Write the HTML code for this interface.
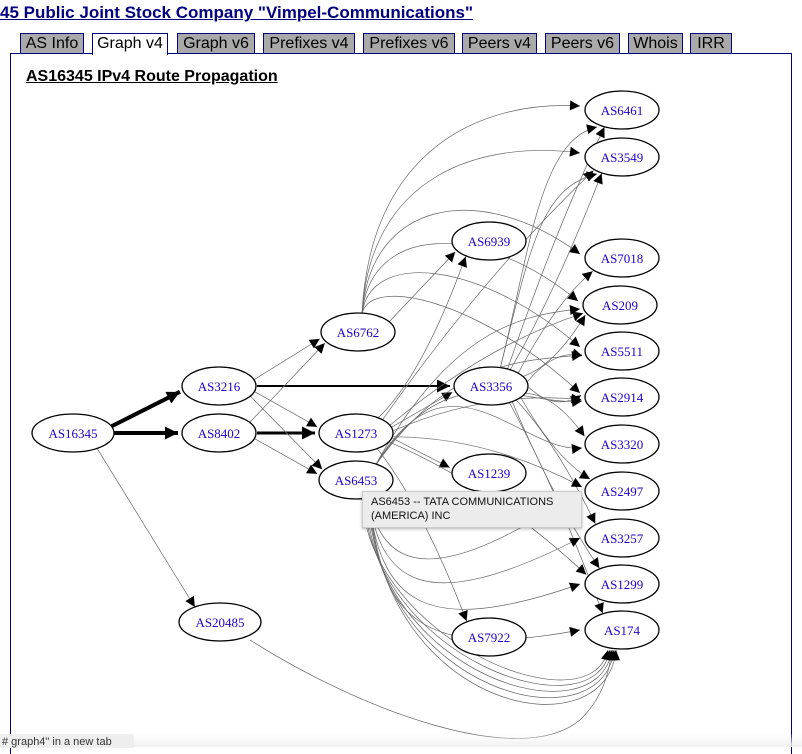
<!DOCTYPE html>
<html><head><meta charset="utf-8"><style>
body{margin:0;width:802px;height:747px;overflow:hidden;background:#fff;font-family:"Liberation Sans",Arial,sans-serif;position:relative}
.h1{position:absolute;left:0;top:3px;font-size:17px;font-weight:bold;color:#000080;text-decoration:underline;white-space:nowrap;transform:scaleX(1.0);transform-origin:left}
.tab{position:absolute;top:33px;height:19px;background:#a9a9a9;border:1px solid #000080;border-bottom:none;font-size:16px;line-height:20px;text-align:center;color:#000}
.tab.sel{background:#fff;height:21px;z-index:2}
.box{position:absolute;left:10px;top:53px;width:780px;height:700px;border:1px solid #000080;border-bottom:none}
.t2{position:absolute;left:26px;top:68px;font-size:16px;font-weight:bold;text-decoration:underline;white-space:nowrap;transform:scaleX(1.0);transform-origin:left}
svg{position:absolute;left:0;top:0}
.tip{position:absolute;left:362px;top:491px;width:210px;height:32px;background:#ececec;border:1px solid #ccc;font-size:11px;line-height:14px;padding:3px 0 0 8px;color:#111;box-shadow:0 1px 3px rgba(0,0,0,.3)}
.bot{position:absolute;left:0;top:733px;width:802px;height:14px;background:linear-gradient(#fff0,#f2f2f2)}
.st{position:absolute;left:0;top:734px;width:132px;height:14px;background:#eee;border-radius:0 4px 0 0;font-size:11px;color:#333;padding-left:2px;line-height:16px}
</style></head><body>
<div class="h1">45 Public Joint Stock Company "Vimpel-Communications"</div>
<div class="tab" style="left:20px;width:62px">AS Info</div>
<div class="tab sel" style="left:92px;width:74px">Graph v4</div>
<div class="tab" style="left:177px;width:76px">Graph v6</div>
<div class="tab" style="left:263px;width:90px">Prefixes v4</div>
<div class="tab" style="left:363px;width:90px">Prefixes v6</div>
<div class="tab" style="left:462px;width:73px">Peers v4</div>
<div class="tab" style="left:545px;width:73px">Peers v6</div>
<div class="tab" style="left:628px;width:53px">Whois</div>
<div class="tab" style="left:690px;width:40px">IRR</div>
<div class="box"></div>
<div class="t2">AS16345 IPv4 Route Propagation</div>
<svg id="g" width="802" height="747" xmlns="http://www.w3.org/2000/svg">
<defs><marker id="a" viewBox="0 0 10 10" refX="10" refY="5" markerWidth="14" markerHeight="10" markerUnits="userSpaceOnUse" orient="auto"><path d="M0,0L10,5L0,10z" fill="#000"/></marker>
<marker id="b" viewBox="0 0 10 10" refX="10" refY="5" markerWidth="18" markerHeight="13" markerUnits="userSpaceOnUse" orient="auto"><path d="M0,0L10,5L0,10z" fill="#000"/></marker></defs>
<g id="e" fill="none" stroke="#666" stroke-width="0.7"></g>
<g id="n" fill="#fff" stroke="#000" stroke-width="1.3" font-family="Liberation Serif,serif" font-size="13"></g>
</svg>
<div class="tip">AS6453 -- TATA COMMUNICATIONS<br>(AMERICA) INC</div>
<div class="bot"></div>
<div class="st"># graph4" in a new tab</div>
<script>
var N={AS6461:[622,110],AS3549:[622,157],AS6939:[489,241],AS7018:[622,258],AS209:[620,305],AS6762:[358,332],AS5511:[622,351],AS3216:[219,386],AS3356:[491,386],AS2914:[622,397],AS16345:[73,433],AS8402:[219,433],AS1273:[356,433],AS3320:[622,444],AS1239:[489,473],AS6453:[356,480],AS2497:[622,491],AS3257:[622,538],AS1299:[622,584],AS174:[622,630],AS20485:[220,622],AS7922:[489,637]};
var R=['AS6461','AS3549','AS7018','AS209','AS5511','AS2914','AS3320','AS2497','AS3257','AS1299','AS174'];
var e=document.getElementById('e'),n=document.getElementById('n'),S='http://www.w3.org/2000/svg';
function P(d,w,m){var p=document.createElementNS(S,'path');p.setAttribute('d',d);p.setAttribute('marker-end','url(#'+(m||'a')+')');if(w){p.setAttribute('stroke','#000');p.setAttribute('stroke-width',w);}e.appendChild(p);}
function edge(a,b,w,bend){var A=N[a],B=N[b];var dx=B[0]-A[0],dy=B[1]-A[1],L=Math.hypot(dx,dy);
var sx=A[0]+dx/L*38,sy=A[1]+dy/L*18,ex=B[0]-dx/L*41,ey=B[1]-dy/L*19;
if(bend){var mx=(sx+ex)/2,my=(sy+ey)/2+bend;P('M'+sx+','+sy+' Q'+mx+','+my+' '+ex+','+ey,w);}else P('M'+sx+','+sy+' L'+ex+','+ey,w,w?'b':'a');}
edge('AS16345','AS3216',4);edge('AS16345','AS8402',4);edge('AS8402','AS1273',3);edge('AS3216','AS3356',2);
edge('AS16345','AS20485');edge('AS3216','AS6762');edge('AS8402','AS6762');edge('AS3216','AS1273');edge('AS8402','AS6453');edge('AS3216','AS6453');
edge('AS6762','AS6939');edge('AS1273','AS3356');edge('AS1273','AS1239');edge('AS1273','AS7922',0,-30);edge('AS1273','AS6939',0,40);
var up=['AS6461','AS3549','AS7018','AS209','AS5511','AS2914'];
up.forEach(function(t,i){var B=N[t];P('M362,314 C370,'+(150+i*25)+' 480,'+(100+i*40)+' '+(B[0]-42)+','+(B[1]-4));});
R.forEach(function(t,i){var bnd=(i%2?20:-20);edge('AS3356',t,0,bnd);});
R.forEach(function(t,i){if(i%2)edge('AS1273',t,0,-25);});
['AS2497','AS3257','AS1299','AS174'].forEach(function(t,i){var B=N[t];P('M368,495 C380,'+(560+i*20)+' 420,'+(600+i*20)+' '+(B[0]-42)+','+B[1]);});
[0,1,2,3,4].forEach(function(i){P('M'+(362+i*2)+',497 C'+(368+i*3)+','+(640+i*18)+' '+(590+i*4)+','+(730+i*6)+' '+(608+i*2)+',650');});
P('M250,640 C360,710 520,770 580,720 C600,700 608,680 612,650');
['AS5511','AS2914','AS3320','AS209'].forEach(function(t,i){var B=N[t];P('M375,466 C450,'+(360-i*10)+' 520,'+(B[1]+10)+' '+(B[0]-40)+','+(B[1]+4));});
['AS6461','AS3549'].forEach(function(t){var B=N[t];P('M500,369 C530,250 540,'+(B[1]+30)+' '+(B[0]-25)+','+(B[1]+17));});
for(var k in N){var c=N[k],rx=k.length>6?41:37;var el=document.createElementNS(S,'ellipse');el.setAttribute('cx',c[0]);el.setAttribute('cy',c[1]);el.setAttribute('rx',rx);el.setAttribute('ry',19);n.appendChild(el);
var t=document.createElementNS(S,'text');t.setAttribute('x',c[0]);t.setAttribute('y',c[1]+5);t.setAttribute('text-anchor','middle');t.setAttribute('fill','#2200cc');t.setAttribute('stroke','none');t.textContent=k;n.appendChild(t);}
</script>
</body></html>
